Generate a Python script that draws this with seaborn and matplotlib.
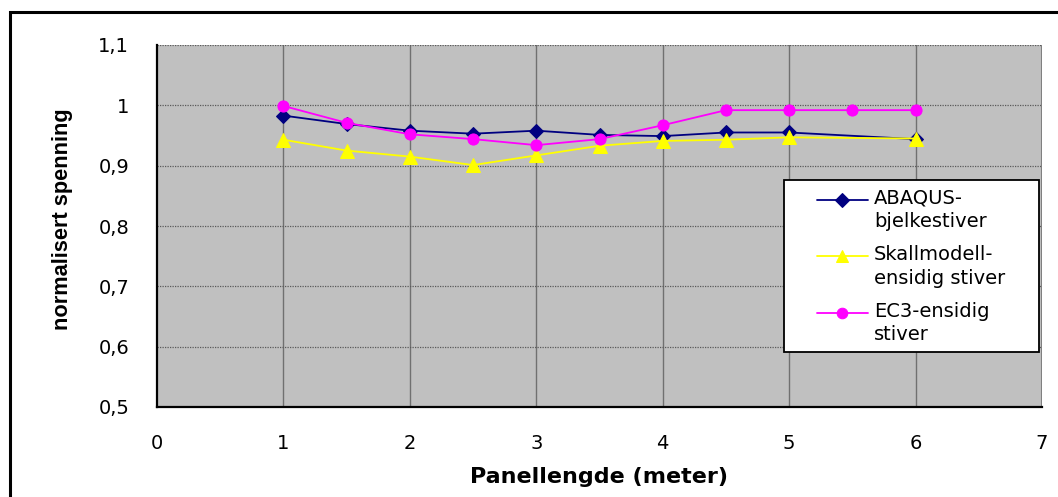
import matplotlib
matplotlib.use("Agg")
import matplotlib.pyplot as plt
from matplotlib.patches import Rectangle
import seaborn as sns
import pandas as pd

# Panel lengths (m) and normalised stress for the three models
x_abaqus = [1, 1.5, 2, 2.5, 3, 3.5, 4, 4.5, 5, 6]
y_abaqus = [0.983, 0.969, 0.958, 0.953, 0.958, 0.951, 0.949, 0.955, 0.955, 0.944]

x_skall = [1, 1.5, 2, 2.5, 3, 3.5, 4, 4.5, 5, 6]
y_skall = [0.943, 0.925, 0.915, 0.901, 0.917, 0.933, 0.941, 0.943, 0.947, 0.945]

x_ec3 = [1, 1.5, 2, 2.5, 3, 3.5, 4, 4.5, 5, 5.5, 6]
y_ec3 = [0.999, 0.971, 0.952, 0.944, 0.934, 0.944, 0.967, 0.992, 0.992, 0.992, 0.992]

labels = ["ABAQUS-\nbjelkestiver", "Skallmodell-\nensidig stiver", "EC3-ensidig\nstiver"]
x_ticks = [0, 1, 2, 3, 4, 5, 6, 7]
y_ticks = [0.5, 0.6, 0.7, 0.8, 0.9, 1.0, 1.1]
y_ticklabels = ["0,5", "0,6", "0,7", "0,8", "0,9", "1", "1,1"]

sns.set_theme(style="white")
plt.rcParams["font.family"] = ["DejaVu Sans"]
plt.rcParams["text.color"] = "black"
plt.rcParams["axes.labelcolor"] = "black"
plt.rcParams["xtick.color"] = "black"
plt.rcParams["ytick.color"] = "black"

df = pd.concat([
    pd.DataFrame({"x": x_abaqus, "y": y_abaqus, "serie": labels[0]}),
    pd.DataFrame({"x": x_skall, "y": y_skall, "serie": labels[1]}),
    pd.DataFrame({"x": x_ec3, "y": y_ec3, "serie": labels[2]}),
])

W, H = 1058, 497
fig = plt.figure(figsize=(W / 100, H / 100), dpi=100)
ax = fig.add_axes([157 / W, 1 - 407 / H, (1042 - 157) / W, (407 - 45) / H])
ax.set_facecolor("#C0C0C0")

palette = {labels[0]: "#000080", labels[1]: "#FFFF00", labels[2]: "#FF00FF"}
markers = {labels[0]: "D", labels[1]: "^", labels[2]: "o"}
sizes = {labels[0]: 7.5, labels[1]: 9.5, labels[2]: 8}

for lab in labels:
    sub = df[df["serie"] == lab]
    sns.lineplot(data=sub, x="x", y="y", ax=ax, color=palette[lab], marker=markers[lab],
                 markersize=sizes[lab], markeredgecolor=palette[lab], linewidth=1.3,
                 label=lab, zorder=3)

ax.set_xlim(0, 7)
ax.set_ylim(0.5, 1.1)
ax.set_xticks(x_ticks)
ax.set_xticklabels([str(t) for t in x_ticks], fontsize=14, color="black")
ax.set_yticks(y_ticks)
ax.set_yticklabels(y_ticklabels, fontsize=14, color="black")

# grid: solid verticals, dotted horizontals
for xv in x_ticks[1:-1]:
    ax.axvline(xv, color="#707070", linewidth=1.0, zorder=1)
for yv in y_ticks[1:]:
    ax.axhline(yv, color="#5A5A5A", linewidth=0.9, linestyle=(0, (1, 1)), zorder=1)

for side in ["top", "right"]:
    ax.spines[side].set_visible(False)
ax.axvline(7, color="#808080", linewidth=2.2, zorder=2)
for side in ["left", "bottom"]:
    ax.spines[side].set_color("black")
    ax.spines[side].set_linewidth(1.6)
    ax.spines[side].set_zorder(4)
ax.tick_params(axis="y", direction="out", length=7, width=1.2, color="black", pad=13)
ax.tick_params(axis="x", direction="out", length=4.5, width=1.2, color="black", pad=15)

ax.set_xlabel("Panellengde (meter)", fontsize=16, fontweight="bold", color="black",
              labelpad=10)
ax.set_ylabel("normalisert spenning", fontsize=15.7, fontweight="bold", color="black",
              family=["Liberation Sans", "DejaVu Sans"])
ax.yaxis.set_label_coords((73 - 157) / 885, (407 - 219) / 362)

# legend: frame drawn as a plain rectangle, entries placed inside it
ax.add_patch(Rectangle((784 / W, 1 - 352 / H), (1039 - 784) / W, (352 - 180) / H,
                       transform=fig.transFigure, facecolor="white", clip_on=False,
                       edgecolor="black", linewidth=1.3, zorder=5))
leg = ax.legend(loc="upper left", bbox_to_anchor=(817 / W, 1 - 189 / H),
                bbox_transform=fig.transFigure, fontsize=14, frameon=False,
                handlelength=2.62, handletextpad=0.3, labelspacing=0.72,
                borderpad=0, borderaxespad=0)
leg.set_zorder(6)
for t in leg.get_texts():
    t.set_linespacing(1.3)
    t.set_color("black")
for ln in leg.get_lines():
    ln.set_ydata([v + 8.0 for v in ln.get_ydata()])
    ln.set_markersize(ln.get_markersize() * 0.95)

# outer chart frame
fig.patches.append(Rectangle((10 / W, -0.05), 1.1, 1 - 12 / H + 0.05,
                             transform=fig.transFigure, fill=False,
                             edgecolor="black", linewidth=2.2))

fig.savefig("out.png", dpi=100)
